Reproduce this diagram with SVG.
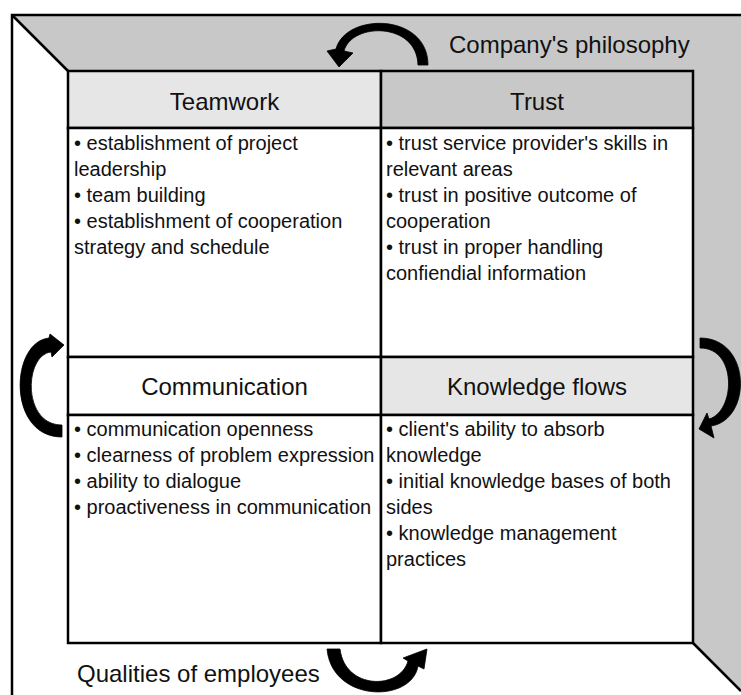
<svg xmlns="http://www.w3.org/2000/svg" width="741" height="695" viewBox="0 0 741 695">
  <style>
    .title { font-family: "Liberation Sans", Arial, sans-serif; font-size: 24px; fill: #111; text-anchor: middle; }
    .label { font-family: "Liberation Sans", Arial, sans-serif; font-size: 24px; fill: #111; }
    .body { font-family: "Liberation Sans", Arial, sans-serif; font-size: 20px; fill: #111; }
    .edge { fill: none; stroke: #000; stroke-width: 2.5; }
    .cell { stroke: #000; stroke-width: 2.5; }
    .arrow { fill: #000; stroke: #000; stroke-width: 0.8; stroke-linejoin: round; }
  </style>

  <rect width="741" height="695" fill="#fff"/>

  <!-- room: ceiling and right wall -->
  <g id="room">
    <polygon points="12,15 741,15 741,691 693,643 693,71 68,71" fill="#c8c8c8"/>
    <polyline class="edge" points="12,695 12,15 741,15"/>
    <line class="edge" x1="12" y1="15" x2="68" y2="71"/>
    <line class="edge" x1="693" y1="643" x2="741" y2="691"/>
  </g>

  <g id="teamwork">
    <rect class="cell" x="68" y="71" width="313" height="57" fill="#e6e6e6"/>
    <rect class="cell" x="68" y="128" width="313" height="229" fill="#fff"/>
    <text class="title" x="224.5" y="110">Teamwork</text>
    <text class="body" x="74" y="150">• establishment of project</text>
    <text class="body" x="74" y="176">leadership</text>
    <text class="body" x="74" y="202">• team building</text>
    <text class="body" x="74" y="228">• establishment of cooperation</text>
    <text class="body" x="74" y="254">strategy and schedule</text>
  </g>

  <g id="trust">
    <rect class="cell" x="381" y="71" width="312" height="57" fill="#c8c8c8"/>
    <rect class="cell" x="381" y="128" width="312" height="229" fill="#fff"/>
    <text class="title" x="537" y="110">Trust</text>
    <text class="body" x="386" y="150">• trust service provider's skills in</text>
    <text class="body" x="386" y="176">relevant areas</text>
    <text class="body" x="386" y="202">• trust in positive outcome of</text>
    <text class="body" x="386" y="228">cooperation</text>
    <text class="body" x="386" y="254">• trust in proper handling</text>
    <text class="body" x="386" y="280">confiendial information</text>
  </g>

  <g id="communication">
    <rect class="cell" x="68" y="357" width="313" height="58" fill="#fff"/>
    <rect class="cell" x="68" y="415" width="313" height="228" fill="#fff"/>
    <text class="title" x="224.5" y="395">Communication</text>
    <text class="body" x="74" y="436">• communication openness</text>
    <text class="body" x="74" y="462">• clearness of problem expression</text>
    <text class="body" x="74" y="488">• ability to dialogue</text>
    <text class="body" x="74" y="514">• proactiveness in communication</text>
  </g>

  <g id="knowledge-flows">
    <rect class="cell" x="381" y="357" width="312" height="58" fill="#e6e6e6"/>
    <rect class="cell" x="381" y="415" width="312" height="228" fill="#fff"/>
    <text class="title" x="537" y="395">Knowledge flows</text>
    <text class="body" x="386" y="436">• client's ability to absorb</text>
    <text class="body" x="386" y="462">knowledge</text>
    <text class="body" x="386" y="488">• initial knowledge bases of both</text>
    <text class="body" x="386" y="514">sides</text>
    <text class="body" x="386" y="540">• knowledge management</text>
    <text class="body" x="386" y="566">practices</text>
  </g>

  <!-- tapered curved arrows around the grid -->
  <g id="connectors">
    <path class="arrow" d="M 428 65 C 428 13, 346 12, 336 49 L 327 51 L 339 67 L 353 53 L 344 51 C 352 22, 417 22, 418 65 Z"/>
    <path class="arrow" d="M 62 437 C 7 437, 10 342, 49 338 L 50 334 L 64 345 L 52 357 L 51 352 C 24 355, 22 425, 62 425 Z"/>
    <path class="arrow" d="M 700 338 C 752 338, 752 420, 711 426 L 714 438 L 699 429 L 707 413 L 709 419 C 735 412, 738 348, 700 348 Z"/>
    <path class="arrow" d="M 327 649 C 332 703, 412 703, 418 666 L 424 669 L 427 649 L 403 658 L 408 661 C 400 690, 345 690, 340 649 Z"/>
  </g>

  <g id="captions">
    <text class="label" x="449" y="53">Company's philosophy</text>
    <text class="label" x="77" y="682">Qualities of employees</text>
  </g>
</svg>
